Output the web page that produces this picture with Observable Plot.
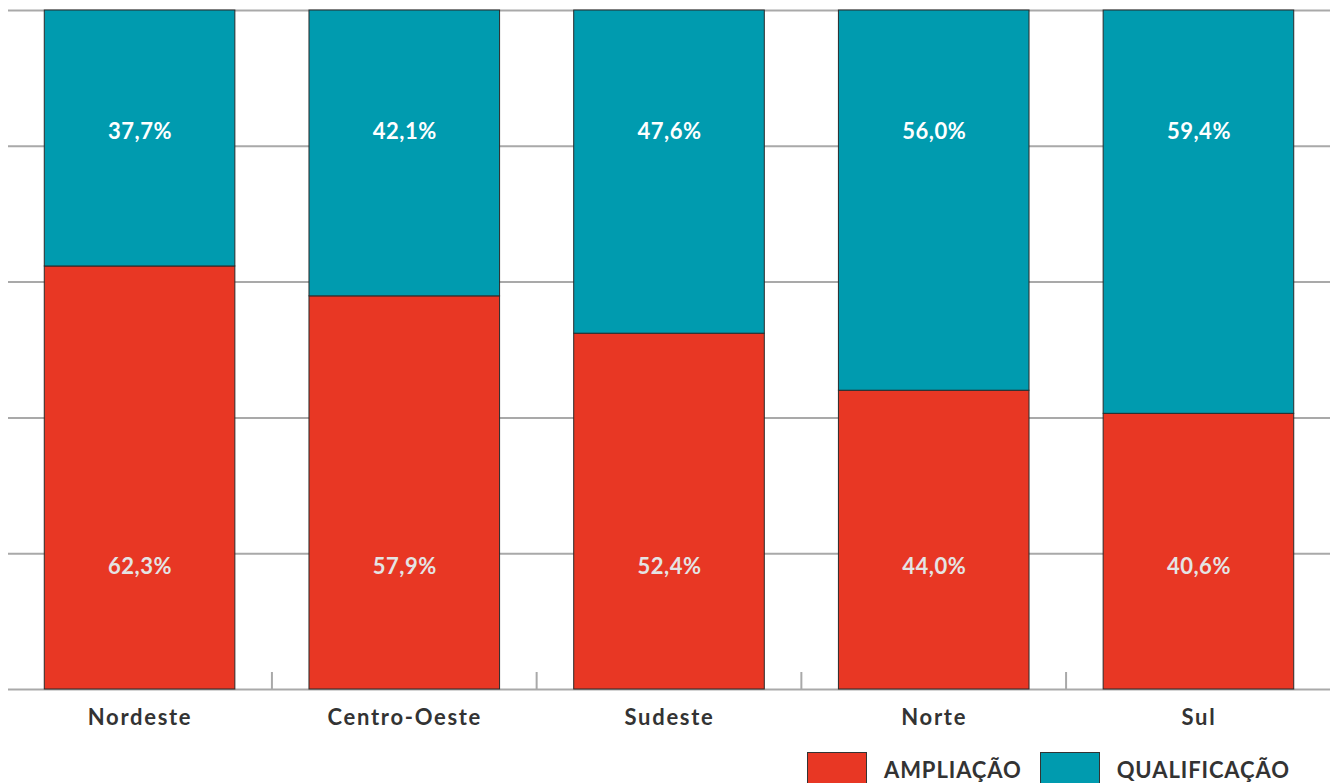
<!DOCTYPE html>
<html>
<head>
<meta charset="utf-8">
<script src="https://cdn.jsdelivr.net/npm/d3@7"></script>
<script src="https://cdn.jsdelivr.net/npm/@observablehq/plot@0.6"></script>
<style>
  body { margin: 0; background: #fff; font-family: Lato, "Open Sans", sans-serif; }
  #legend { display: flex; align-items: flex-start; margin-top: 12px; padding-left: 807px; height: 31px; overflow: visible; }
  .sw { width: 60px; height: 32px; box-sizing: border-box; border: 1px solid #333; }
  .lab { font-weight: 700; font-size: 22px; line-height: 22px; color: #333; margin: 7px 18px 0 17px; letter-spacing: 0.9px; }
  svg g[aria-label="x-axis tick label"] text { letter-spacing: 1.7px; }
  svg g[aria-label="text"] text { letter-spacing: 0.5px; }
</style>
</head>
<body>
<div id="chart"></div>
<div id="legend"></div>
<script>
const regions = ["Nordeste", "Centro-Oeste", "Sudeste", "Norte", "Sul"];
const types = ["AMPLIAÇÃO", "QUALIFICAÇÃO"];
const ampliacao = [62.3, 57.9, 52.4, 44.0, 40.6];
const qualificacao = [37.7, 42.1, 47.6, 56.0, 59.4];
const yTicks = [0, 20, 40, 60, 80, 100];
const colors = ["#E83724", "#009BAF"];

const data = [];
regions.forEach((r, i) => {
  data.push({region: r, tipo: types[0], value: ampliacao[i]});
  data.push({region: r, tipo: types[1], value: qualificacao[i]});
});
const fmt = v => d3.format(".1f")(v).replace(".", ",") + "%";

const boundaryTicks = (index, scales, values, dimensions) => {
  const x = scales.x;
  const bw = typeof x.bandwidth === "function" ? x.bandwidth() : x.bandwidth;
  const yb = dimensions.height - dimensions.marginBottom;
  const g = d3.create("svg:g");
  for (let i = 1; i < regions.length; i++) {
    const xm = (x(regions[i - 1]) + bw + x(regions[i])) / 2;
    g.append("line").attr("x1", xm).attr("x2", xm).attr("y1", yb - 17).attr("y2", yb)
      .attr("stroke", "#a9a9a9").attr("stroke-width", 2);
  }
  return g.node();
};

const chart = Plot.plot({
  width: 1334,
  height: 740,
  marginTop: 10,
  marginBottom: 51,
  marginLeft: 8,
  marginRight: 4,
  style: {fontFamily: "Lato, 'Open Sans', sans-serif", background: "#fff"},
  x: {domain: regions, paddingInner: 0.28, paddingOuter: 0.137, round: false, label: null},
  y: {domain: [0, 100], axis: null},
  color: {domain: types, range: colors},
  marks: [
    Plot.ruleY(yTicks, {y: d => d, stroke: "#a9a9a9", strokeWidth: 2}),
    boundaryTicks,
    Plot.barY(data, {x: "region", y: "value", fill: "tipo", stroke: "#2a2a2a", strokeWidth: 1}),
    Plot.text(data.filter(d => d.tipo === types[1]), {
      x: "region", text: d => fmt(d.value), frameAnchor: "top", dy: 113,
      fill: "#ffffff", fontSize: 22, fontWeight: 700
    }),
    Plot.text(data.filter(d => d.tipo === types[0]), {
      x: "region", text: d => fmt(d.value), frameAnchor: "bottom", dy: -116,
      fill: "#e4e4e4", fontSize: 22, fontWeight: 700
    }),
    Plot.axisX({tickSize: 0, tickPadding: 20, fontSize: 22, fontWeight: 700, fill: "#333", label: null})
  ]
});
document.getElementById("chart").appendChild(chart);

const legend = document.getElementById("legend");
types.forEach((t, i) => {
  const sw = document.createElement("div");
  sw.className = "sw";
  sw.style.background = colors[i];
  const lab = document.createElement("span");
  lab.className = "lab";
  lab.textContent = t;
  legend.appendChild(sw);
  legend.appendChild(lab);
});
</script>
</body>
</html>
